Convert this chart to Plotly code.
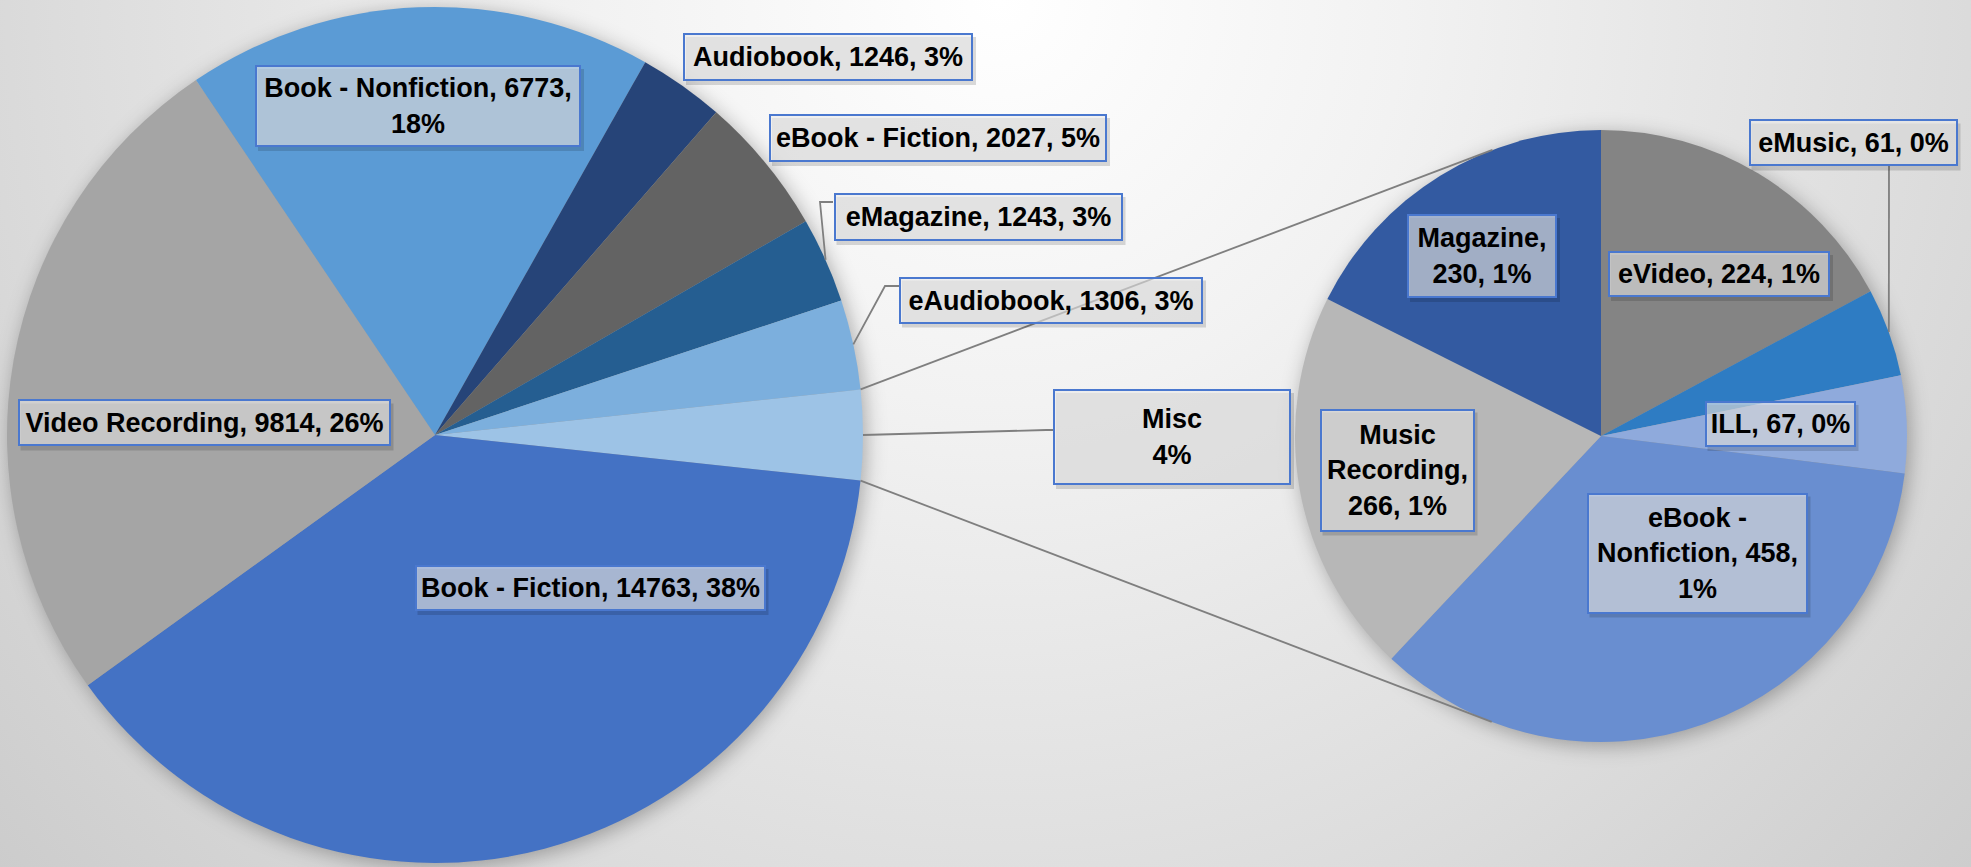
import math
import base64
import plotly.graph_objects as go

W, H = 1971, 867

# ---------------- data ----------------
main_labels = ["Misc", "Book - Fiction", "Video Recording", "Book - Nonfiction",
               "Audiobook", "eBook - Fiction", "eMagazine", "eAudiobook"]
main_values = [1306, 14763, 9814, 6773, 1246, 2027, 1243, 1306]
main_texts = ["Misc<br>4%", "Book - Fiction, 14763, 38%", "Video Recording, 9814, 26%",
              "Book - Nonfiction, 6773,<br>18%", "Audiobook, 1246, 3%",
              "eBook - Fiction, 2027, 5%", "eMagazine, 1243, 3%", "eAudiobook, 1306, 3%"]

misc_labels = ["eVideo", "eMusic", "ILL", "eBook - Nonfiction", "Music Recording", "Magazine"]
misc_values = [224, 61, 67, 458, 266, 230]
misc_texts = ["eVideo, 224, 1%", "eMusic, 61, 0%", "ILL, 67, 0%",
              "eBook -<br>Nonfiction, 458,<br>1%", "Music<br>Recording,<br>266, 1%",
              "Magazine,<br>230, 1%"]

# ---------------- styles ----------------
main_colors = ["#9DC3E6", "#4472C4", "#A5A5A5", "#5B9BD5",
               "#264478", "#636363", "#255E91", "#7CAFDD"]
misc_colors = ["#848484", "#2E7CC3", "#8FAADC", "#698ED0", "#B7B7B7", "#335AA1"]

# pie geometry in pixels (center x, center y from top, radius)
MAIN_C = (435.0, 435.0, 428.0)
MISC_C = (1601.0, 436.0, 306.0)

# label boxes: center x, center y (px from top), box width, box height
main_boxes = [(1172, 437, 238, 96), (590, 588, 351, 46), (204, 423, 373, 47),
              (418, 106, 326, 82), (828, 57, 290, 48), (938, 138, 338, 48),
              (978, 217, 289, 48), (1051, 300, 304, 47)]
misc_boxes = [(1719, 274, 222, 46), (1853, 143, 209, 47), (1780, 424, 151, 46),
              (1697, 553, 221, 121), (1397, 470, 155, 123), (1482, 256, 150, 84)]

# leader elbows (px) for labels placed outside their slice
leaders = [("main", 0, [(1046, 430), (1054, 430)]),
           ("main", 6, [(820, 202), (833, 202)]),
           ("main", 7, [(885, 286), (899, 286)]),
           ("misc", 1, [(1889, 166)])]


def px2paper(x, y):
    return x / W, 1 - y / H


def domain(c):
    cx, cy, r = c
    x0, y1 = px2paper(cx - r, cy - r)
    x1, y0 = px2paper(cx + r, cy + r)
    return dict(x=[x0, x1], y=[y0, y1])


main_total = sum(main_values)
main_rot = 90 - 360 * main_values[0] / main_total / 2
misc_rot = 0


def slice_angles(values, rot):
    tot = sum(values)
    out = []
    a = rot
    for v in values:
        d = 360 * v / tot
        out.append((a, a + d))
        a += d
    return out


def pt(c, ang):
    cx, cy, r = c
    t = math.radians(ang)
    return cx + r * math.sin(t), cy - r * math.cos(t)


main_ang = slice_angles(main_values, main_rot)
misc_ang = slice_angles(misc_values, misc_rot)

fig = go.Figure()
fig.add_trace(go.Pie(labels=main_labels, values=main_values, sort=False,
                     direction="clockwise", rotation=main_rot, textinfo="none",
                     marker=dict(colors=main_colors, line=dict(width=0)),
                     domain=domain(MAIN_C), hovertemplate="%{label}: %{value}<extra></extra>"))
fig.add_trace(go.Pie(labels=misc_labels, values=misc_values, sort=False,
                     direction="clockwise", rotation=misc_rot, textinfo="none",
                     marker=dict(colors=misc_colors, line=dict(width=0)),
                     domain=domain(MISC_C), hovertemplate="%{label}: %{value}<extra></extra>"))

shapes = []
LINE = dict(color="#7F7F7F", width=1.8)


def path_from(points):
    s = ""
    for i, (x, y) in enumerate(points):
        px, py = px2paper(x, y)
        s += ("M" if i == 0 else " L") + f"{px:.6f},{py:.6f}"
    return s


# connector (tangent) lines from misc slice edges to the secondary pie
cx2, cy2, r2 = MISC_C
for ang, sign in [(main_ang[0][0], 1), (main_ang[0][1], -1)]:
    P = pt(MAIN_C, ang)
    dx, dy = P[0] - cx2, P[1] - cy2
    d = math.hypot(dx, dy)
    base = math.degrees(math.atan2(dx, -dy))  # clockwise from up
    off = math.degrees(math.acos(r2 / d))
    T = pt(MISC_C, base + sign * off)
    shapes.append(dict(type="path", xref="paper", yref="paper", path=path_from([P, T]),
                       line=LINE, layer="above"))

# leader lines
for tr, idx, pts in leaders:
    a0, a1 = (main_ang if tr == "main" else misc_ang)[idx]
    edge = pt(MAIN_C if tr == "main" else MISC_C, (a0 + a1) / 2)
    shapes.append(dict(type="path", xref="paper", yref="paper", path=path_from([edge] + pts),
                       line=LINE, layer="above"))

BW, PAD = 2, 1
annotations = []
FONT = dict(family="Liberation Sans, Arial, sans-serif", size=27, color="#000000")
for texts, boxes in [(main_texts, main_boxes), (misc_texts, misc_boxes)]:
    for t, (bx, by, bw, bh) in zip(texts, boxes):
        # soft drop shadow of the label box
        sx0, sy1 = px2paper(bx - bw / 2 + 3, by - bh / 2 + 4)
        sx1, sy0 = px2paper(bx + bw / 2 + 3, by + bh / 2 + 4)
        shapes.append(dict(type="rect", xref="paper", yref="paper", x0=sx0, x1=sx1, y0=sy0, y1=sy1,
                           fillcolor="rgba(0,0,0,0.14)", line=dict(width=0), layer="above"))
        x, y = px2paper(bx, by)
        annotations.append(dict(x=x, y=y, xref="paper", yref="paper", xanchor="center",
                                yanchor="middle", showarrow=False,
                                width=bw - 2 * (BW + PAD), height=bh - 2 * (BW + PAD),
                                borderwidth=BW, borderpad=PAD, align="center", valign="middle",
                                text="<b>" + t + "</b>", bgcolor="rgba(234,234,234,0.62)",
                                bordercolor="#4A78CF", font=FONT))

# background gradient with pie shadows
svg = f'''<svg xmlns="http://www.w3.org/2000/svg" width="{W}" height="{H}" viewBox="0 0 {W} {H}">
<defs>
<radialGradient id="g" gradientUnits="userSpaceOnUse" cx="1000" cy="0" r="1350">
<stop offset="0" stop-color="#ffffff"/>
<stop offset="0.3" stop-color="#f2f2f2"/>
<stop offset="0.7" stop-color="#dcdcdc"/>
<stop offset="1" stop-color="#cbcbcb"/>
</radialGradient>
<filter id="b" x="-30%" y="-30%" width="160%" height="160%"><feGaussianBlur stdDeviation="10"/></filter>
</defs>
<rect x="0" y="0" width="{W}" height="{H}" fill="url(#g)"/>
<circle cx="{MAIN_C[0] + 3}" cy="{MAIN_C[1] + 4}" r="{MAIN_C[2]}" fill="#000" fill-opacity="0.3" filter="url(#b)"/>
<circle cx="{MISC_C[0] + 3}" cy="{MISC_C[1] + 4}" r="{MISC_C[2]}" fill="#000" fill-opacity="0.3" filter="url(#b)"/>
</svg>'''
uri = "data:image/svg+xml;base64," + base64.b64encode(svg.encode()).decode()

fig.update_layout(
    width=W, height=H, margin=dict(l=0, r=0, t=0, b=0),
    paper_bgcolor="#e2e2e2", plot_bgcolor="rgba(0,0,0,0)",
    showlegend=False, shapes=shapes, annotations=annotations,
    images=[dict(source=uri, xref="paper", yref="paper", x=0, y=1, sizex=1, sizey=1,
                 xanchor="left", yanchor="top", sizing="stretch", layer="below")],
)

fig.write_html("out.html", config={"displayModeBar": False},
               post_script="document.body.style.margin='0';document.body.style.overflow='hidden';")
